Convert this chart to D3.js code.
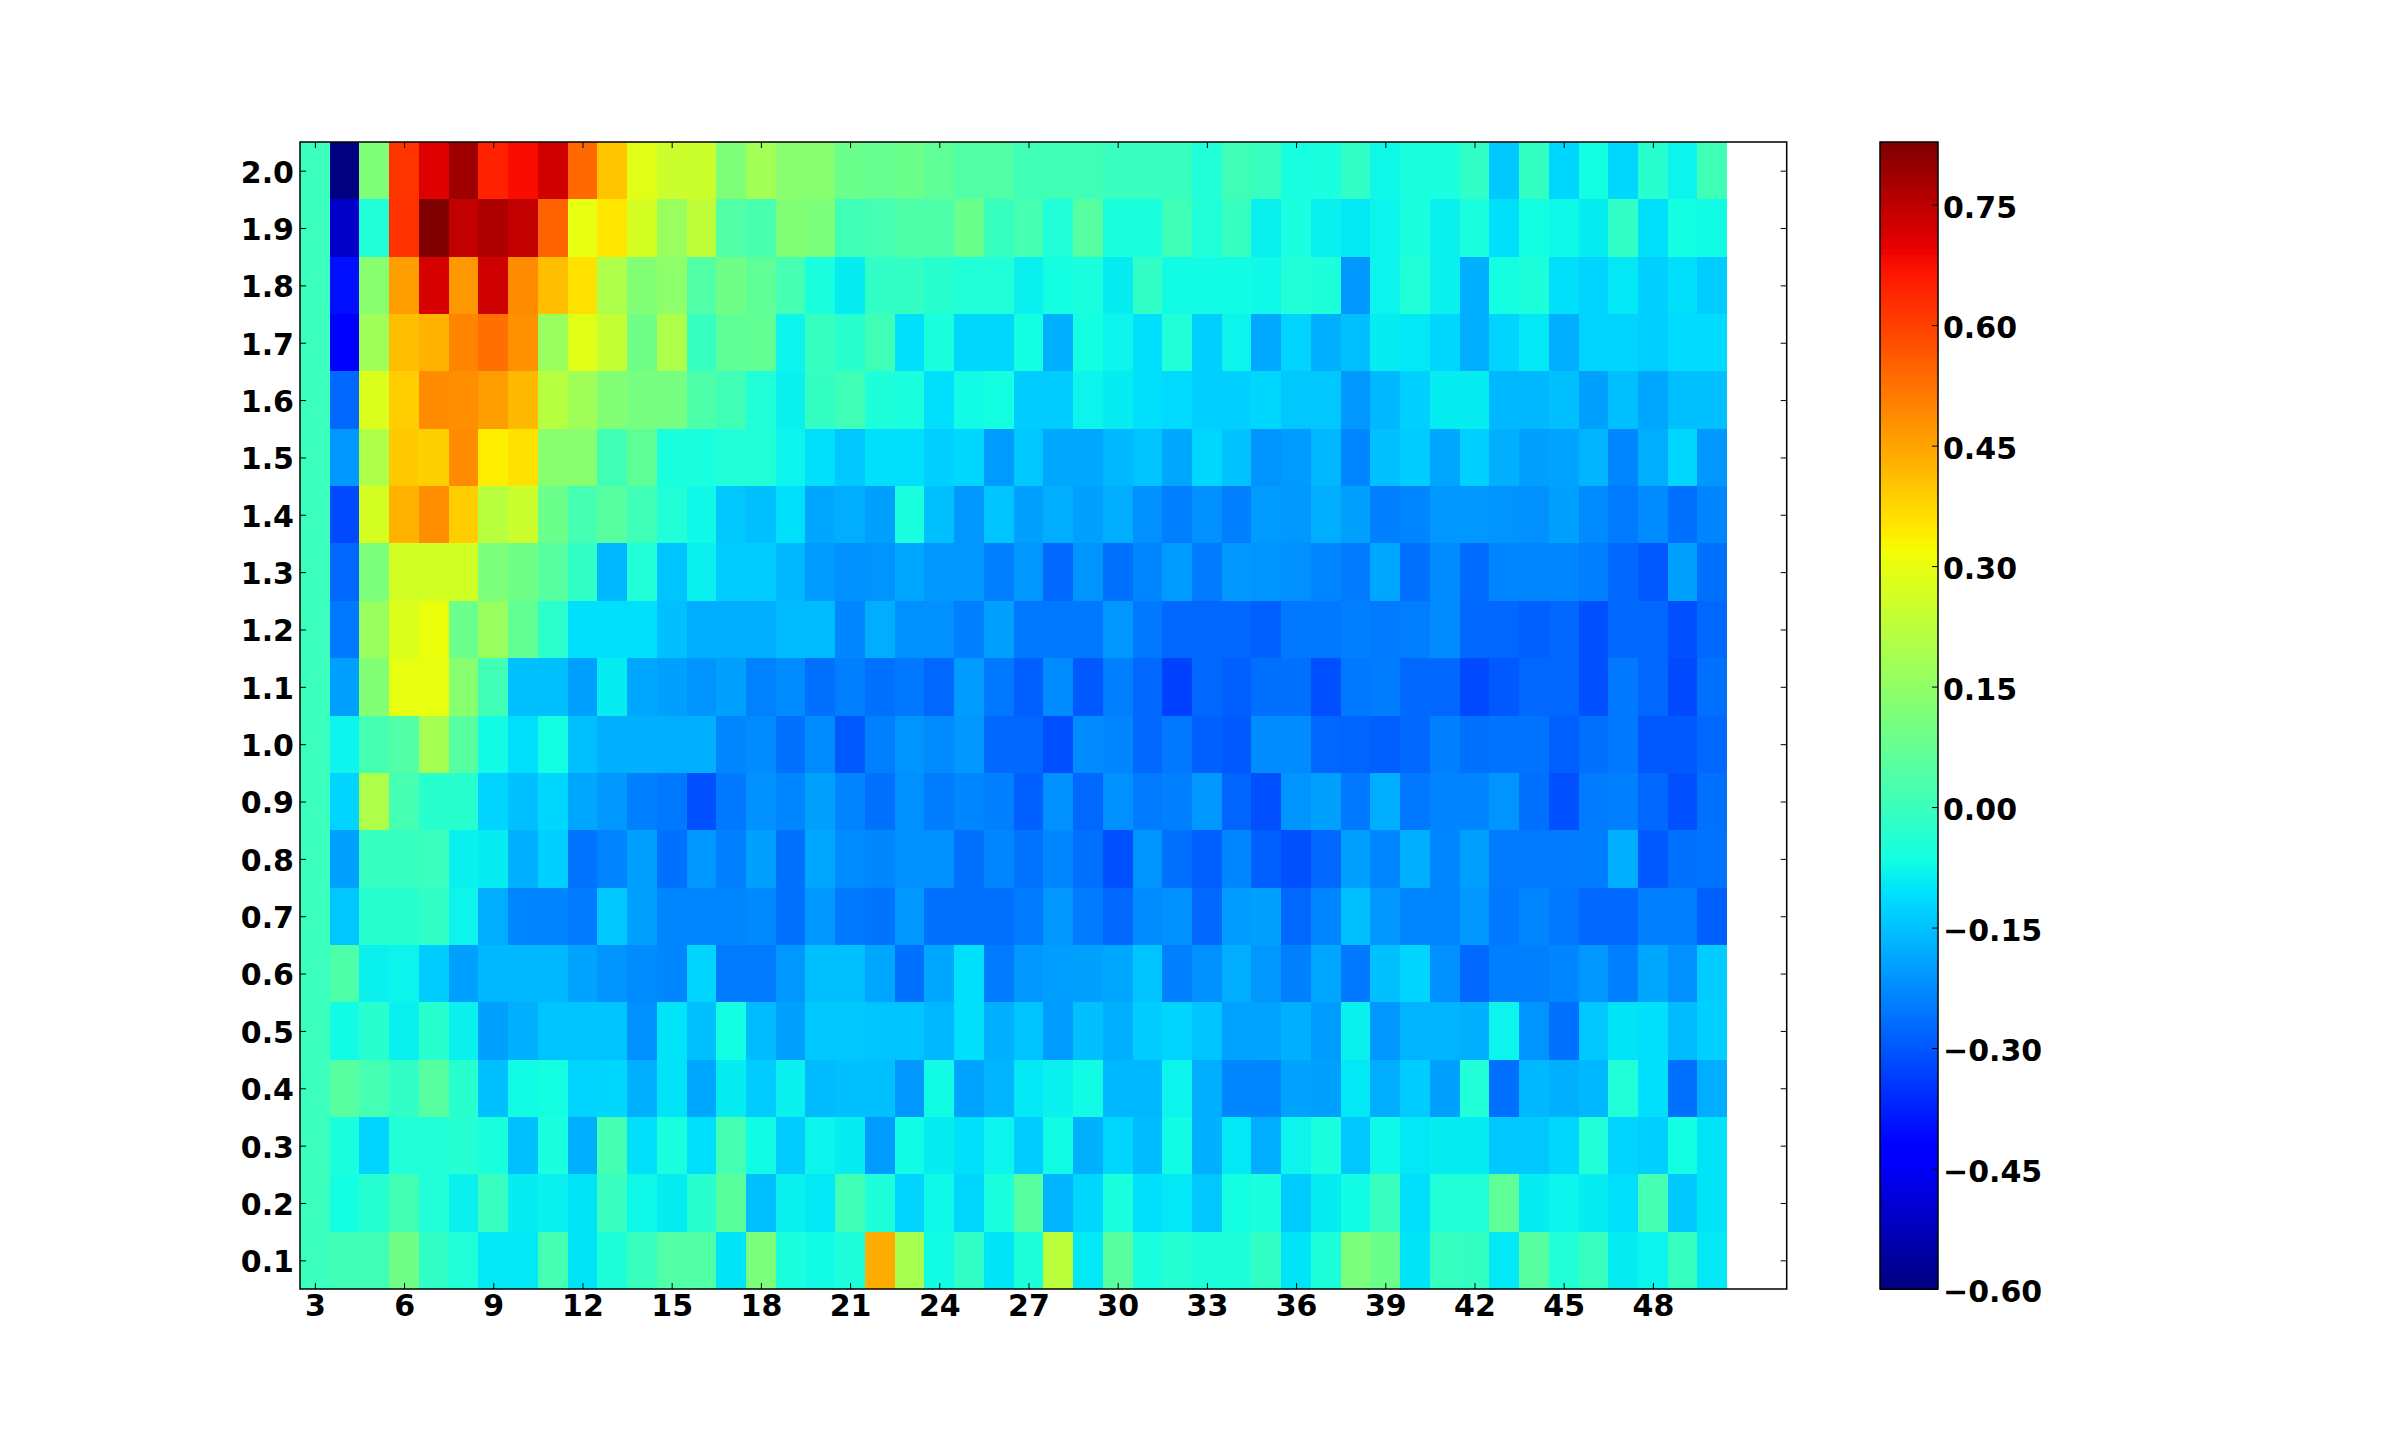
<!DOCTYPE html>
<html>
<head>
<meta charset="utf-8">
<script src="https://d3js.org/d3.v7.min.js"></script>
<style>
  html, body { margin: 0; background: #fff; }
  text { font-family: "DejaVu Sans", sans-serif; font-weight: bold; fill: #000; }
</style>
</head>
<body>
<div id="chart"></div>
<script>
// columns run 3..50, rows 0.1..2.0
var columns = d3.range(3, 51);
var rows = [0.1, 0.2, 0.3, 0.4, 0.5, 0.6, 0.7, 0.8, 0.9, 1.0, 1.1, 1.2, 1.3, 1.4, 1.5, 1.6, 1.7, 1.8, 1.9, 2.0];
var xTicks = [3, 6, 9, 12, 15, 18, 21, 24, 27, 30, 33, 36, 39, 42, 45, 48];
var yTicks = rows;
var colorTicks = [-0.60, -0.45, -0.30, -0.15, 0.00, 0.15, 0.30, 0.45, 0.60, 0.75];

var r01 = [0,.01,.01,.095,-.016,-.045,-.097,-.097,.02,-.103,-.05,-.002,.04,.04,-.103,.115,
  -.055,-.07,-.05,.44,.19,-.07,-.016,-.103,-.05,.225,-.097,.05,-.055,-.035,-.05,-.05,
  -.016,-.103,-.05,.115,.085,-.103,-.005,-.01,-.097,.05,-.045,-.002,-.09,-.08,-.005,-.097];
var r02 = [0,-.065,-.035,.015,-.045,-.085,-.002,-.09,-.085,-.103,-.002,-.075,-.09,-.03,.055,-.153,
  -.085,-.097,.01,-.05,-.125,-.075,-.12,-.055,.05,-.17,-.12,-.055,-.11,-.097,-.142,-.065,
  -.055,-.136,-.09,-.07,-.002,-.11,-.045,-.045,.065,-.09,-.08,-.09,-.11,.02,-.142,-.103];
var r03 = [0,-.055,-.125,-.045,-.045,-.035,-.055,-.153,-.055,-.175,.02,-.108,-.055,-.11,.02,-.07,
  -.136,-.08,-.09,-.205,-.07,-.09,-.108,-.08,-.136,-.07,-.175,-.12,-.158,-.07,-.175,-.097,
  -.18,-.08,-.055,-.142,-.075,-.097,-.09,-.09,-.142,-.142,-.12,-.045,-.125,-.13,-.065,-.103];
var r04 = [0,.05,.02,-.016,.05,-.03,-.153,-.07,-.065,-.125,-.12,-.175,-.103,-.187,-.09,-.136,
  -.085,-.158,-.153,-.153,-.21,-.07,-.192,-.17,-.097,-.085,-.07,-.164,-.164,-.08,-.18,-.232,
  -.232,-.192,-.198,-.097,-.18,-.136,-.198,-.045,-.265,-.164,-.175,-.164,-.045,-.11,-.265,-.18];
var r05 = [0,-.07,-.03,-.085,-.03,-.085,-.198,-.175,-.147,-.147,-.147,-.22,-.103,-.153,-.065,-.16,
  -.198,-.142,-.142,-.147,-.147,-.164,-.11,-.175,-.147,-.205,-.153,-.175,-.136,-.125,-.147,-.195,
  -.192,-.175,-.205,-.085,-.21,-.17,-.17,-.175,-.08,-.215,-.265,-.142,-.103,-.108,-.158,-.13];
var r06 = [0,.035,-.085,-.08,-.136,-.198,-.164,-.164,-.164,-.192,-.215,-.226,-.232,-.125,-.25,-.25,
  -.21,-.153,-.153,-.187,-.265,-.187,-.11,-.25,-.21,-.2,-.198,-.187,-.147,-.243,-.22,-.18,
  -.21,-.243,-.187,-.254,-.153,-.125,-.22,-.276,-.243,-.243,-.232,-.21,-.243,-.187,-.22,-.136];
var r07 = [0,-.142,-.03,-.03,-.016,-.08,-.18,-.232,-.237,-.25,-.142,-.198,-.232,-.232,-.232,-.228,
  -.265,-.21,-.254,-.26,-.21,-.265,-.265,-.265,-.25,-.21,-.25,-.276,-.226,-.22,-.276,-.203,
  -.198,-.276,-.232,-.153,-.21,-.232,-.232,-.21,-.254,-.232,-.254,-.276,-.276,-.243,-.243,-.287];
var r08 = [0,-.198,-.005,-.005,0,-.085,-.09,-.175,-.13,-.26,-.237,-.198,-.265,-.21,-.243,-.198,
  -.265,-.187,-.226,-.232,-.22,-.22,-.265,-.232,-.26,-.232,-.265,-.31,-.215,-.265,-.287,-.232,
  -.287,-.31,-.276,-.198,-.232,-.175,-.232,-.198,-.25,-.25,-.25,-.248,-.175,-.298,-.265,-.26];
var r09 = [0,-.125,.20,.02,-.03,-.03,-.125,-.153,-.12,-.187,-.21,-.243,-.254,-.31,-.254,-.22,
  -.232,-.198,-.237,-.265,-.22,-.248,-.232,-.243,-.287,-.22,-.276,-.22,-.25,-.243,-.21,-.282,
  -.31,-.215,-.198,-.254,-.18,-.254,-.237,-.237,-.215,-.265,-.31,-.25,-.243,-.276,-.31,-.265];
var r10 = [0,-.08,.02,.04,.185,.05,-.07,-.11,-.065,-.153,-.175,-.175,-.18,-.175,-.232,-.225,
  -.265,-.226,-.298,-.243,-.215,-.226,-.21,-.276,-.276,-.31,-.226,-.232,-.276,-.254,-.287,-.298,
  -.226,-.226,-.276,-.28,-.287,-.276,-.243,-.265,-.26,-.26,-.287,-.265,-.254,-.298,-.298,-.276];
var r11 = [0,-.198,.125,.30,.30,.135,.01,-.153,-.153,-.198,-.09,-.187,-.198,-.215,-.198,-.24,
  -.226,-.265,-.243,-.265,-.254,-.276,-.205,-.254,-.287,-.226,-.298,-.243,-.276,-.332,-.276,-.287,
  -.265,-.265,-.31,-.254,-.248,-.276,-.276,-.32,-.298,-.276,-.276,-.31,-.254,-.276,-.32,-.265];
var r12 = [0,-.254,.165,.28,.31,.085,.165,.07,-.025,-.11,-.11,-.11,-.153,-.18,-.18,-.175,
  -.158,-.158,-.232,-.18,-.22,-.22,-.243,-.198,-.254,-.254,-.254,-.21,-.254,-.276,-.276,-.276,
  -.287,-.254,-.254,-.243,-.25,-.245,-.226,-.276,-.276,-.287,-.276,-.31,-.276,-.276,-.31,-.276];
var r13 = [0,-.276,.115,.265,.265,.265,.115,.095,.05,-.016,-.164,-.045,-.147,-.085,-.136,-.136,
  -.164,-.205,-.22,-.215,-.187,-.21,-.21,-.243,-.21,-.276,-.215,-.265,-.232,-.205,-.25,-.21,
  -.215,-.22,-.232,-.25,-.187,-.265,-.226,-.27,-.232,-.232,-.232,-.243,-.276,-.298,-.198,-.265];
var r14 = [0,-.32,.27,.43,.485,.39,.22,.25,.085,.02,.05,.01,-.045,-.075,-.142,-.153,
  -.108,-.187,-.18,-.198,-.055,-.153,-.21,-.147,-.198,-.18,-.198,-.18,-.22,-.243,-.22,-.243,
  -.205,-.21,-.18,-.198,-.243,-.232,-.21,-.21,-.215,-.22,-.198,-.226,-.25,-.226,-.265,-.232];
var r15 = [0,-.21,.20,.395,.385,.49,.34,.36,.135,.135,.01,.065,-.055,-.055,-.045,-.045,
  -.08,-.11,-.142,-.11,-.11,-.13,-.12,-.205,-.142,-.187,-.187,-.164,-.147,-.187,-.12,-.15,
  -.215,-.205,-.164,-.232,-.153,-.136,-.187,-.13,-.175,-.198,-.192,-.17,-.232,-.18,-.12,-.21];
var r16 = [0,-.276,.28,.39,.49,.485,.46,.42,.215,.175,.125,.105,.105,.035,.01,-.045,
  -.085,-.01,.01,-.05,-.055,-.11,-.07,-.065,-.136,-.136,-.08,-.09,-.11,-.115,-.13,-.13,
  -.12,-.142,-.142,-.21,-.164,-.13,-.09,-.09,-.164,-.164,-.153,-.198,-.153,-.187,-.153,-.153];
var r17 = [0,-.44,.175,.41,.43,.50,.53,.48,.165,.29,.24,.095,.20,-.005,.065,.07,
  -.08,-.005,-.03,.01,-.11,-.055,-.12,-.12,-.065,-.175,-.065,-.08,-.11,-.045,-.13,-.08,
  -.185,-.125,-.175,-.153,-.09,-.097,-.12,-.18,-.125,-.097,-.175,-.125,-.125,-.13,-.115,-.115];
var r18 = [0,-.40,.135,.46,.72,.47,.73,.49,.41,.36,.20,.125,.145,.04,.095,.065,
  .02,-.055,-.09,-.016,-.012,-.03,-.045,-.045,-.085,-.065,-.055,-.09,-.016,-.07,-.07,-.07,
  -.075,-.045,-.05,-.21,-.08,-.045,-.085,-.175,-.065,-.05,-.108,-.125,-.097,-.13,-.108,-.135];
var r19 = [0,-.51,-.045,.625,.83,.745,.77,.745,.55,.30,.35,.27,.165,.23,.04,.025,
  .125,.115,.01,.02,.035,.035,.085,-.005,.02,-.045,.05,-.055,-.055,.01,-.045,-.005,
  -.085,-.055,-.085,-.095,-.08,-.055,-.085,-.055,-.108,-.065,-.075,-.09,-.016,-.108,-.065,-.07];
var r20 = [0,-.60,.12,.62,.71,.79,.65,.68,.73,.54,.40,.29,.25,.25,.12,.18,
  .135,.135,.085,.075,.085,.065,.04,.04,.01,.01,.01,-.002,-.002,-.002,-.045,.01,
  -.003,-.06,-.055,-.016,-.075,-.055,-.055,-.016,-.14,-.01,-.12,-.065,-.12,-.03,-.08,.01];

var grid = [r01, r02, r03, r04, r05, r06, r07, r08, r09, r10, r11, r12, r13, r14, r15, r16, r17, r18, r19, r20];

var vmin = -0.6, vmax = 0.828;

//set chart
var svgWidth = 2400, svgHeight = 1432;
var plot = { left: 300, right: 1786.7, top: 142, bottom: 1289 };
var bar = { left: 1880, right: 1938 };
var fontSize = "30px", tickLen = 6;

var svg = d3.select("#chart").append("svg")
  .attr("width", svgWidth)
  .attr("height", svgHeight)
  .style("display", "block");

// jet colormap, same breakpoints as matplotlib
var jetR = d3.scaleLinear().domain([0, .35, .66, .89, 1]).range([0, 0, 1, 1, .5]);
var jetG = d3.scaleLinear().domain([0, .125, .375, .64, .91, 1]).range([0, 0, 1, 1, 0, 0]);
var jetB = d3.scaleLinear().domain([0, .11, .34, .65, 1]).range([.5, 1, 1, 0, 0]);
var norm = d3.scaleLinear().domain([vmin, vmax]).range([0, 1]).clamp(true);
function jet(t) {
  return d3.rgb(jetR(t) * 255, jetG(t) * 255, jetB(t) * 255).formatHex();
}

//scales
var x = d3.scaleLinear().domain([2.5, 52.5]).range([plot.left, plot.right]);
var y = d3.scaleLinear().domain([0.05, 2.05]).range([plot.bottom, plot.top]);
var cy = d3.scaleLinear().domain([vmin, vmax]).range([plot.bottom, plot.top]);

//cells
var cells = [];
grid.forEach(function (row, i) {
  row.forEach(function (v, j) {
    cells.push({ col: columns[j], row: rows[i], value: v });
  });
});

svg.append("g").attr("shape-rendering", "crispEdges")
  .selectAll("rect")
  .data(cells)
  .enter()
  .append("rect")
  .attr("x", d => x(d.col - 0.5))
  .attr("width", d => x(d.col + 0.5) - x(d.col - 0.5))
  .attr("y", d => y(d.row + 0.05))
  .attr("height", d => y(d.row - 0.05) - y(d.row + 0.05))
  .attr("fill", d => jet(norm(d.value)));

function noLabel() { return ""; }
function styleAxis(g) {
  g.selectAll("text").style("font-size", fontSize);
  g.selectAll("line").attr("stroke", "#000");
  g.select(".domain").remove();
}

//axes, ticks point inward on all four sides
svg.append("g").attr("transform", `translate(0, ${plot.bottom})`)
  .call(d3.axisBottom(x).tickValues(xTicks).tickSize(-tickLen).tickPadding(6).tickFormat(d3.format("d")))
  .attr("font-family", null).attr("font-size", null)
  .call(styleAxis);
svg.append("g").attr("transform", `translate(0, ${plot.top})`)
  .call(d3.axisTop(x).tickValues(xTicks).tickSize(-tickLen).tickFormat(noLabel))
  .call(styleAxis);
svg.append("g").attr("transform", `translate(${plot.left}, 0)`)
  .call(d3.axisLeft(y).tickValues(yTicks).tickSize(-tickLen).tickPadding(6).tickFormat(d3.format(".1f")))
  .attr("font-family", null).attr("font-size", null)
  .call(styleAxis)
  .selectAll("text").attr("dy", "0.38em");
svg.append("g").attr("transform", `translate(${plot.right}, 0)`)
  .call(d3.axisRight(y).tickValues(yTicks).tickSize(-tickLen).tickFormat(noLabel))
  .call(styleAxis);

svg.append("rect")
  .attr("x", plot.left).attr("y", plot.top)
  .attr("width", plot.right - plot.left).attr("height", plot.bottom - plot.top)
  .attr("fill", "none").attr("stroke", "#000").attr("stroke-width", 1.5);

//colorbar
var levels = d3.range(256);
svg.append("g").attr("shape-rendering", "crispEdges")
  .selectAll("rect")
  .data(levels)
  .enter()
  .append("rect")
  .attr("x", bar.left)
  .attr("width", bar.right - bar.left)
  .attr("y", d => cy(vmin + (vmax - vmin) * (d + 1) / 256))
  .attr("height", (plot.bottom - plot.top) / 256 + 0.5)
  .attr("fill", d => jet(d / 255));

svg.append("g").attr("transform", `translate(${bar.right}, 0)`)
  .call(d3.axisRight(cy).tickValues(colorTicks).tickSize(-tickLen).tickPadding(5).tickFormat(d3.format(".2f")))
  .attr("font-family", null).attr("font-size", null)
  .call(styleAxis)
  .selectAll("text").attr("dy", "0.42em");

svg.append("rect")
  .attr("x", bar.left).attr("y", plot.top)
  .attr("width", bar.right - bar.left).attr("height", plot.bottom - plot.top)
  .attr("fill", "none").attr("stroke", "#000").attr("stroke-width", 1.5);
</script>
</body>
</html>
